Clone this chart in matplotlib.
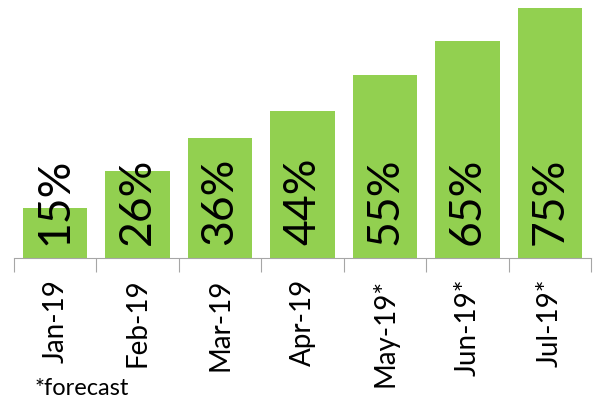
import matplotlib.pyplot as plt
from matplotlib.transforms import offset_copy

months = ["Jan-19", "Feb-19", "Mar-19", "Apr-19", "May-19*", "Jun-19*", "Jul-19*"]
share = [15, 26, 36, 44, 55, 65, 75]

plt.rcParams['font.family'] = ['Lato', 'DejaVu Sans']

fig = plt.figure(figsize=(5.96, 3.95), dpi=100)
ax = fig.add_axes([14 / 596, 1 - 258 / 395, 577 / 596, 250 / 395])

x = range(len(months))
ax.bar(x, share, width=0.78, color="#92d050")

# percentage labels standing inside each bar
lab_tr = offset_copy(ax.transData, fig=fig, x=0, y=13, units="dots")
for i, v in enumerate(share):
    ax.text(i, 0, f"{v}%", rotation=90, ha="center", va="bottom",
            fontsize=32, transform=lab_tr)

ax.set_xlim(-0.5, len(months) - 0.5)
ax.set_ylim(0, 75)
for s in ["top", "right", "left"]:
    ax.spines[s].set_visible(False)
ax.spines["bottom"].set_color("#a6a6a6")
ax.set_yticks([])

# category names between boundary ticks
ax.set_xticks([i + 0.5 for i in range(-1, len(months))])
ax.set_xticklabels([])
ax.tick_params(axis="x", length=10, color="#a6a6a6")
ax.set_xticks(list(x), minor=True)
ax.set_xticklabels(months, minor=True, rotation=90, fontsize=20)
ax.tick_params(axis="x", which="minor", length=0, pad=15)

fig.text(35 / 596, 1 - 378 / 395, "*forecast", fontsize=17, va="top")

fig.savefig("out.png", dpi=100)
